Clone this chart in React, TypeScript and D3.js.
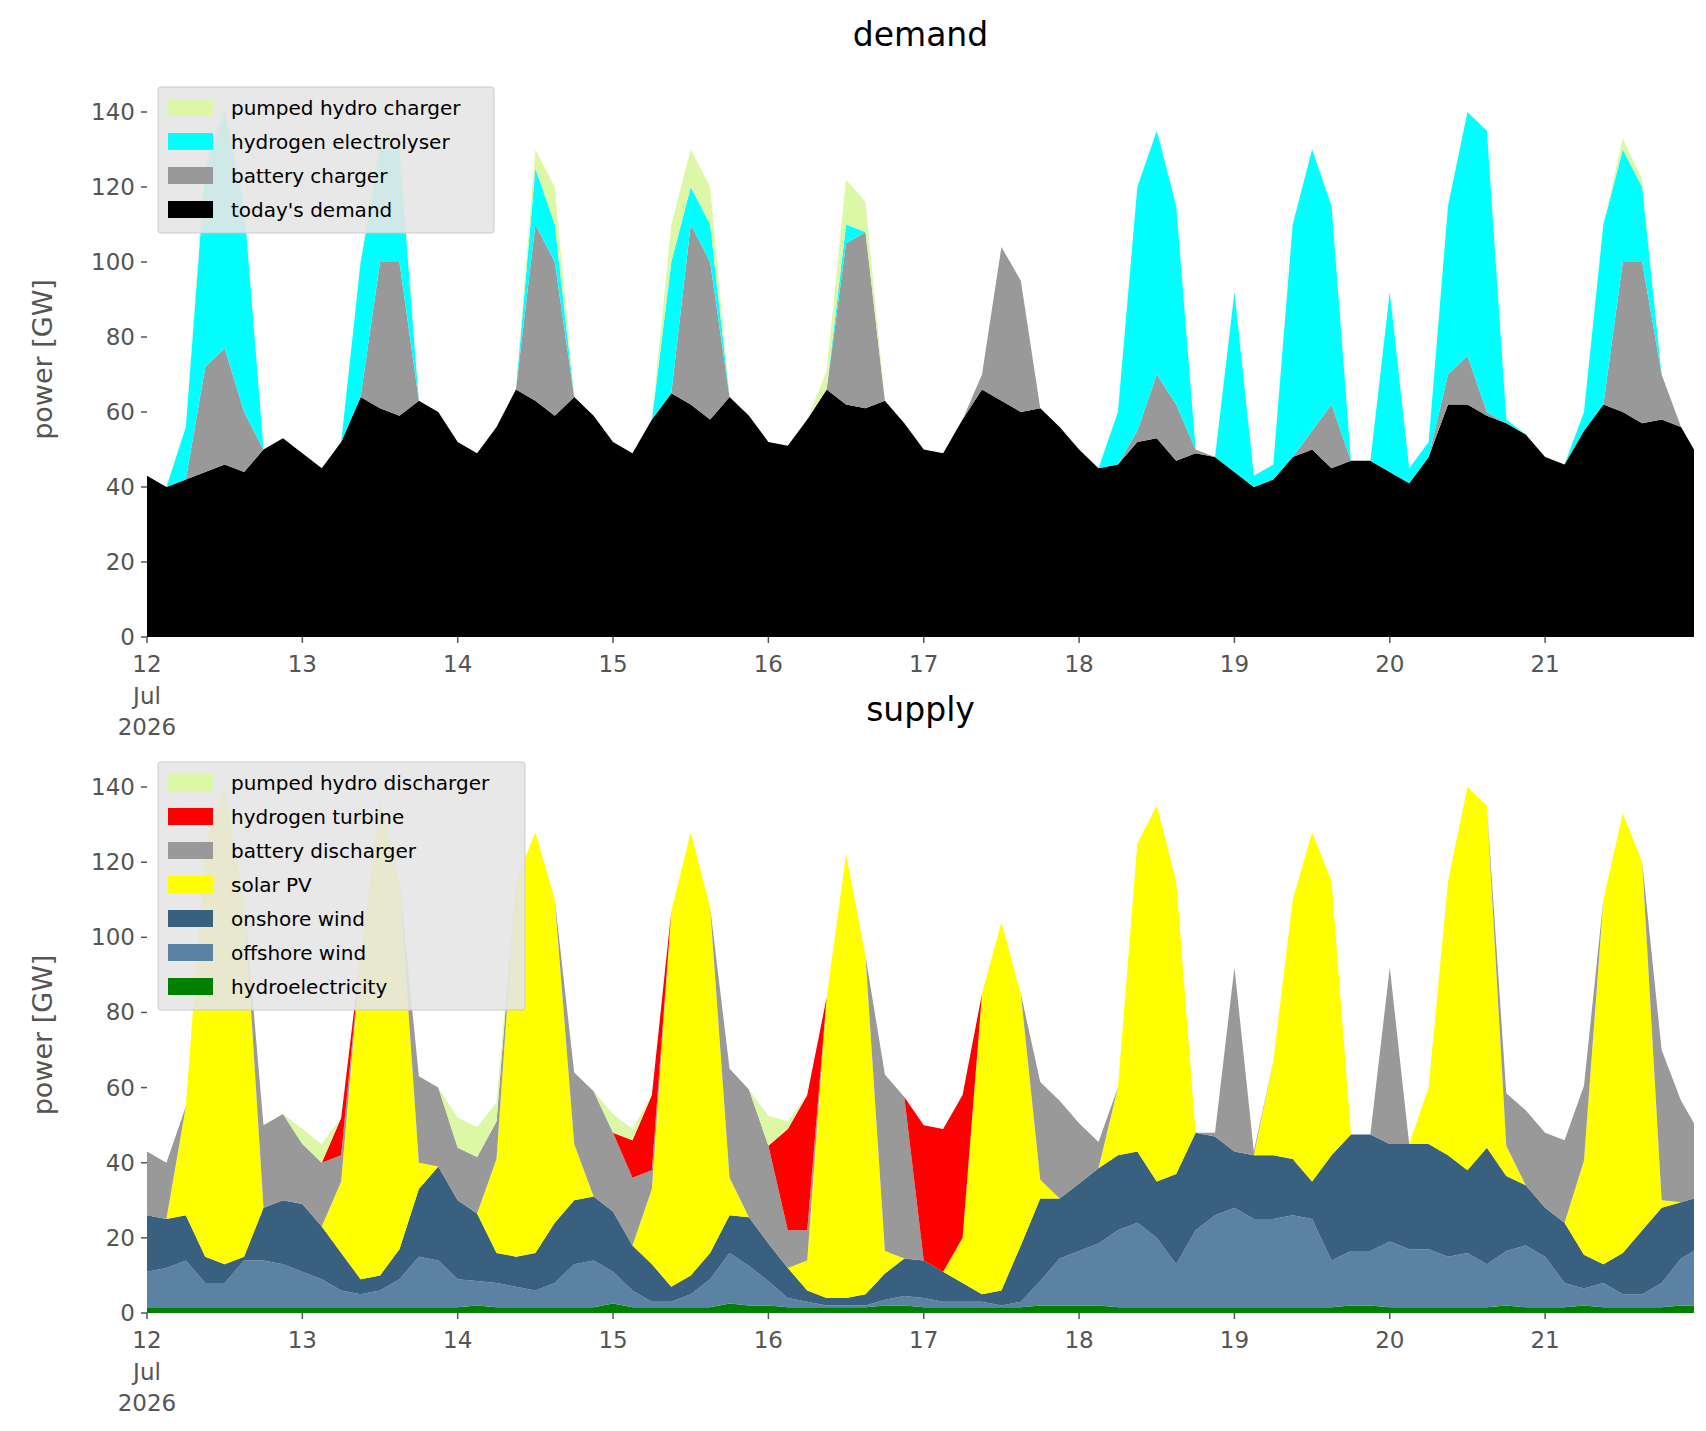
import React from "react";
import * as d3 from "d3";

// 3-hourly samples from 12 Jul 00:00; last point is 21 Jul 23:00
const hours = [...d3.range(0, 240, 3), 239];

const todaysDemand = [
  43, 40, 42, 44, 46, 44, 50, 53, 49, 45, 52, 64, 61, 59, 63, 60,
  52, 49, 56, 66, 63, 59, 64, 59, 52, 49, 58, 65, 62, 58, 64, 59,
  52, 51, 58, 66, 62, 61, 63, 57, 50, 49, 58, 66, 63, 60, 61, 56,
  50, 45, 46, 52, 53, 47, 49, 48, 44, 40, 42, 48, 50, 45, 47, 47,
  44, 41, 48, 62, 62, 59, 57, 54, 48, 46, 55, 62, 60, 57, 58, 56, 50,
];
const batteryCharger = [
  0, 0, 0, 28, 31, 16, 0, 0, 0, 0, 0, 0, 39, 41, 0, 0,
  0, 0, 0, 0, 47, 41, 0, 0, 0, 0, 0, 0, 48, 42, 0, 0,
  0, 0, 0, 0, 43, 47, 0, 0, 0, 0, 0, 4, 41, 35, 0, 0,
  0, 0, 0, 3, 17, 15, 1, 0, 0, 0, 0, 0, 5, 17, 0, 0,
  0, 0, 0, 8, 13, 1, 0, 0, 0, 0, 0, 0, 40, 43, 12, 0, 0,
];
const electrolyser = [
  0, 0, 14, 53, 63, 55, 0, 0, 0, 0, 0, 36, 30, 30, 0, 0,
  0, 0, 0, 0, 15, 10, 0, 0, 0, 0, 0, 35, 10, 10, 0, 0,
  0, 0, 0, 0, 5, 0, 0, 0, 0, 0, 0, 0, 0, 0, 0, 0,
  0, 0, 14, 65, 65, 53, 0, 0, 48, 3, 4, 62, 75, 53, 0, 0,
  48, 4, 4, 45, 65, 75, 1, 0, 0, 0, 5, 48, 30, 20, 0, 0, 0,
];
const pumpedCharger = [
  0, 0, 0, 2, 2, 0, 0, 0, 0, 0, 0, 0, 5, 5, 0, 0,
  0, 0, 0, 0, 5, 10, 0, 0, 0, 0, 0, 10, 10, 10, 0, 0,
  0, 0, 0, 5, 12, 8, 0, 0, 0, 0, 0, 0, 0, 0, 0, 0,
  0, 0, 0, 0, 0, 0, 0, 0, 0, 0, 0, 0, 0, 0, 0, 0,
  0, 0, 0, 0, 0, 0, 0, 0, 0, 0, 0, 0, 3, 2, 0, 0, 0,
];

const hydro = [
  1.5, 1.5, 1.5, 1.5, 1.5, 1.5, 1.5, 1.5, 1.5, 1.5, 1.5, 1.5, 1.5, 1.5, 1.5, 1.5,
  1.5, 2, 1.5, 1.5, 1.5, 1.5, 1.5, 1.5, 2.5, 1.5, 1.5, 1.5, 1.5, 1.5, 2.5, 2,
  2, 1.5, 1.5, 1.5, 1.5, 1.5, 2, 2, 1.5, 1.5, 1.5, 1.5, 1.5, 1.5, 2, 2,
  2, 2, 1.5, 1.5, 1.5, 1.5, 1.5, 1.5, 1.5, 1.5, 1.5, 1.5, 1.5, 1.5, 2, 2,
  1.5, 1.5, 1.5, 1.5, 1.5, 1.5, 2, 1.5, 1.5, 1.5, 2, 1.5, 1.5, 1.5, 1.5, 2, 2,
];
const offshoreWind = [
  9.5, 10.5, 12.5, 6.5, 6.5, 12.5, 12.5, 11.5, 9.5, 7.5, 4.5, 3.5, 4.5, 7.5, 13.5, 12.5,
  7.5, 6.5, 6.5, 5.5, 4.5, 6.5, 11.5, 12.5, 8.5, 4.5, 1.5, 1.5, 3.5, 7.5, 13.5, 10.5,
  6.5, 2.5, 1.5, 0.5, 0.5, 0.5, 1.5, 2.5, 2.5, 1.5, 1.5, 1.5, 0.5, 1.5, 6.5, 12.5,
  14.5, 16.5, 20.5, 22.5, 18.5, 11.5, 20.5, 24.5, 26.5, 23.5, 23.5, 24.5, 23.5, 12.5, 14.5, 14.5,
  17.5, 15.5, 15.5, 13.5, 14.5, 11.5, 14.5, 16.5, 13.5, 6.5, 4.5, 6.5, 3.5, 3.5, 6.5, 12.5, 14.5,
];
const onshoreWind = [
  15, 13, 12, 7, 5, 1, 14, 17, 18, 14, 10, 4, 4, 8, 18, 25,
  21, 18, 8, 8, 10, 16, 17, 17, 16, 12, 10, 4, 5, 7, 10, 13,
  10, 8, 3, 2, 2, 3, 7, 10, 10, 8, 5, 2, 4, 15, 22, 16,
  18, 20, 20, 19, 15, 24, 26, 21, 15, 17, 17, 15, 10, 28, 31, 31,
  26, 28, 28, 27, 22, 31, 20, 16, 13, 16, 9, 5, 11, 17, 20, 15, 14,
];
const solarPV = [
  0, 0, 29, 110, 127, 95, 0, 0, 0, 0, 19, 86, 127, 98, 7, 0,
  0, 0, 25, 100, 112, 86, 15, 0, 0, 0, 20, 100, 118, 92, 10, 0,
  0, 0, 8, 80, 118, 90, 6, 0, 0, 0, 12, 80, 98, 67, 5, 0,
  0, 0, 18, 82, 100, 78, 0, 0, 0, 0, 25, 69, 93, 73, 0, 0,
  0, 0, 15, 73, 102, 91, 8, 0, 0, 0, 25, 97, 117, 98, 2, 0, 0,
];
const batteryDischarger = [
  17, 15, 0, 0, 0, 0, 22, 23, 16, 17, 7, 0, 0, 0, 23, 21,
  14, 15, 10, 0, 0, 0, 19, 28, 21, 18, 5, 0, 0, 0, 29, 34,
  26, 10, 8, 0, 0, 0, 47, 43, 0, 0, 0, 0, 0, 0, 26, 26,
  16, 7, 0, 0, 0, 0, 0, 1, 49, 1, 0, 0, 0, 0, 0, 0,
  47, 0, 0, 0, 0, 0, 14, 20, 20, 22, 20, 0, 0, 0, 40, 27, 20,
];
const hydrogenTurbine = [
  0, 0, 0, 0, 0, 0, 0, 0, 0, 0, 10, 0, 0, 0, 0, 0,
  0, 0, 0, 0, 0, 0, 0, 0, 0, 10, 20, 0, 0, 0, 0, 0,
  0, 27, 36, 0, 0, 0, 0, 0, 36, 38, 38, 0, 0, 0, 0, 0,
  0, 0, 0, 0, 0, 0, 0, 0, 0, 0, 0, 0, 0, 0, 0, 0,
  0, 0, 0, 0, 0, 0, 0, 0, 0, 0, 0, 0, 0, 0, 0, 0, 0,
];
const pumpedDischarger = [
  0, 0, 0, 0, 0, 0, 0, 0, 4, 5, 0, 0, 0, 0, 0, 0,
  8, 8, 5, 0, 0, 0, 0, 0, 5, 3, 0, 0, 0, 0, 0, 0,
  8, 2, 0, 0, 0, 0, 0, 0, 0, 0, 0, 0, 0, 0, 0, 0,
  0, 0, 0, 0, 0, 0, 0, 0, 0, 0, 0, 0, 0, 0, 0, 0,
  0, 0, 0, 0, 0, 0, 0, 0, 0, 0, 0, 0, 0, 0, 0, 0, 0,
];

const dayTicks = d3.range(12, 22);
const yTicks = [0, 20, 40, 60, 80, 100, 120, 140];

type Series = { name: string; color: string; values: number[] };

const demandSeries: Series[] = [
  { name: "today's demand", color: "#000000", values: todaysDemand },
  { name: "battery charger", color: "#999999", values: batteryCharger },
  { name: "hydrogen electrolyser", color: "#00ffff", values: electrolyser },
  { name: "pumped hydro charger", color: "#dcf7a5", values: pumpedCharger },
];
const supplySeries: Series[] = [
  { name: "hydroelectricity", color: "#008000", values: hydro },
  { name: "offshore wind", color: "#5b82a2", values: offshoreWind },
  { name: "onshore wind", color: "#3a6080", values: onshoreWind },
  { name: "solar PV", color: "#ffff00", values: solarPV },
  { name: "battery discharger", color: "#999999", values: batteryDischarger },
  { name: "hydrogen turbine", color: "#ff0000", values: hydrogenTurbine },
  { name: "pumped hydro discharger", color: "#dcf7a5", values: pumpedDischarger },
];

const W = 1706;
const H = 1431;
const left = 139;
const right = 1686;
const x = d3.scaleLinear().domain([0, 239]).range([left, right]);

function Panel({ title, series, top, bottom }: { title: string; series: Series[]; top: number; bottom: number }) {
  const y = d3.scaleLinear().domain([0, 148]).range([bottom, top]);
  const rows = hours.map((h, i) => {
    const r: Record<string, number> = { h };
    series.forEach((s) => (r[s.name] = s.values[i]));
    return r;
  });
  const stacked = d3.stack<Record<string, number>>().keys(series.map((s) => s.name))(rows);
  const area = d3
    .area<d3.SeriesPoint<Record<string, number>>>()
    .x((d) => x(d.data.h))
    .y0((d) => y(d[0]))
    .y1((d) => y(d[1]));
  const legend = [...series].reverse();
  const lw = title === "demand" ? 336 : 367;
  return (
    <g>
      <text x={(left + right) / 2} y={top - 36} textAnchor="middle" fontSize={33} fill="#000">
        {title}
      </text>
      {stacked.map((s, i) => (
        <path key={s.key} d={area(s) ?? ""} fill={series[i].color} stroke="none" />
      ))}
      {yTicks.map((t) => (
        <g key={t}>
          <line x1={left - 6} x2={left} y1={y(t)} y2={y(t)} stroke="#555" strokeWidth={1.5} />
          <text x={left - 12} y={y(t) + 8} textAnchor="end" fontSize={23} fill="#555">
            {t}
          </text>
        </g>
      ))}
      {[...dayTicks, 22].map((d) => (
        <line key={d} x1={x((d - 12) * 24)} x2={x((d - 12) * 24)} y1={bottom} y2={bottom + 6} stroke="#555" strokeWidth={1.5} />
      ))}
      {dayTicks.map((d) => (
        <text key={d} x={x((d - 12) * 24)} y={bottom + 35} textAnchor="middle" fontSize={23} fill="#555">
          {d}
        </text>
      ))}
      <text x={x(0)} y={bottom + 67} textAnchor="middle" fontSize={23} fill="#555">Jul</text>
      <text x={x(0)} y={bottom + 98} textAnchor="middle" fontSize={23} fill="#555">2026</text>
      <text
        transform={`translate(44,${(top + bottom) / 2}) rotate(-90)`}
        textAnchor="middle"
        fontSize={27}
        fill="#555"
      >
        power [GW]
      </text>
      <g transform={`translate(150,${top + 5})`}>
        <rect width={lw} height={legend.length * 34 + 10} fill="#e5e5e5" fillOpacity={0.9} stroke="#ccc" rx={3} />
        {legend.map((s, i) => (
          <g key={s.name} transform={`translate(10,${12 + i * 34})`}>
            <rect width={45} height={17} fill={s.color} />
            <text x={63} y={16} fontSize={20} fill="#000">
              {s.name}
            </text>
          </g>
        ))}
      </g>
    </g>
  );
}

export default function App() {
  return (
    <svg width={W} height={H} style={{ fontFamily: "DejaVu Sans, sans-serif", display: "block" }}>
      <rect width={W} height={H} fill="#fff" />
      <Panel title="demand" series={demandSeries} top={74} bottom={629} />
      <Panel title="supply" series={supplySeries} top={749} bottom={1305} />
    </svg>
  );
}
